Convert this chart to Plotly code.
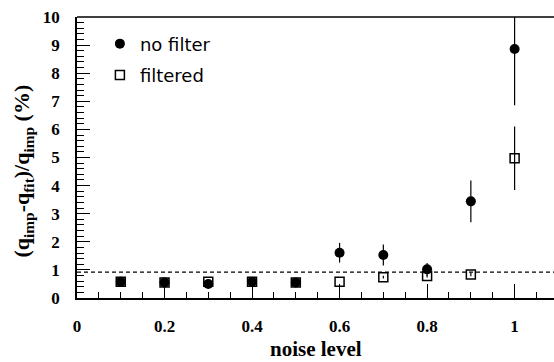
import plotly.graph_objects as go

noise = [0.1, 0.2, 0.3, 0.4, 0.5, 0.6, 0.7, 0.8, 0.9, 1.0]
no_filter = [0.58, 0.55, 0.5, 0.58, 0.55, 1.61, 1.53, 1.02, 3.44, 8.86]
no_filter_err = [0, 0, 0, 0, 0, 0.35, 0.37, 0.23, 0.74, 2.0]
filtered = [0.58, 0.55, 0.58, 0.58, 0.55, 0.58, 0.74, 0.78, 0.84, 4.97]
filtered_err = [0, 0, 0, 0, 0, 0, 0.05, 0.05, 0.07, 1.13]
threshold = 0.92
x_ticks = [0, 0.2, 0.4, 0.6, 0.8, 1.0]
x_tick_labels = ["0", "0.2", "0.4", "0.6", "0.8", "1"]
y_ticks = list(range(0, 11))

fig = go.Figure()
fig.add_trace(go.Scatter(
    x=noise, y=no_filter, mode="markers", name="no filter",
    marker=dict(symbol="circle", size=10, color="black"),
    error_y=dict(type="data", array=no_filter_err, color="black", thickness=1.2, width=0),
    legendgroup="a",
))
fig.add_trace(go.Scatter(
    x=noise, y=filtered, mode="markers", name="filtered",
    marker=dict(symbol="square-open", size=9, color="black", line=dict(width=1.5, color="black")),
    error_y=dict(type="data", array=filtered_err, color="black", thickness=1.2, width=0),
    legendgroup="b",
))

fig.add_shape(type="line", xref="paper", yref="y", x0=0, x1=1, y0=threshold, y1=threshold,
              line=dict(color="black", width=1.2, dash="4px,3px"))
fig.add_shape(type="line", xref="paper", yref="paper", x0=0, x1=1, y0=1, y1=1,
              line=dict(color="black", width=1.5))

serif = "Liberation Serif"
fig.update_xaxes(
    range=[0, 1.09], tickvals=x_ticks, ticktext=x_tick_labels,
    ticks="inside", ticklen=14, tickwidth=1.2, tickcolor="black",
    minor=dict(ticks="inside", ticklen=6, dtick=0.05, tickwidth=1, tickcolor="black"),
    showline=True, linecolor="black", linewidth=1.5, showgrid=False, zeroline=False,
    tickfont=dict(family=serif, size=17, color="black", weight="bold"),
    ticklabelstandoff=12, automargin=False,
)
fig.update_yaxes(
    range=[0, 10], tickvals=y_ticks,
    ticks="inside", ticklen=13, tickwidth=1.2, tickcolor="black",
    minor=dict(ticks="inside", ticklen=7, dtick=0.2, tickwidth=1, tickcolor="black"),
    showline=True, linecolor="black", linewidth=1.5, showgrid=False, zeroline=False,
    tickfont=dict(family=serif, size=17, color="black", weight="bold"),
    ticklabelstandoff=12, automargin=False,
)
fig.add_annotation(
    text="<b>(q<sub>imp</sub>-q<sub>fit</sub>)/q<sub>imp</sub> (%)</b>",
    xref="paper", yref="paper", x=0, y=0.45, xanchor="center", yanchor="middle",
    xshift=-54, textangle=-90,
    showarrow=False, font=dict(family=serif, size=22, color="black"),
)
fig.add_annotation(
    text="<b>noise level</b>",
    xref="paper", yref="paper", x=0.5, y=0, xanchor="center", yanchor="middle", yshift=-51,
    showarrow=False, font=dict(family=serif, size=21, color="black"),
)
fig.update_layout(
    width=554, height=362,
    margin=dict(l=77, r=0, t=17, b=64),
    plot_bgcolor="white", paper_bgcolor="white",
    showlegend=True,
    legend=dict(x=0.048, y=0.97, xanchor="left", yanchor="top", bgcolor="rgba(0,0,0,0)",
                font=dict(family="DejaVu Sans", size=18, color="black"), tracegroupgap=5),
)
fig.write_html("out.html", config={"displayModeBar": False},
               post_script="document.body.style.margin='0';")
